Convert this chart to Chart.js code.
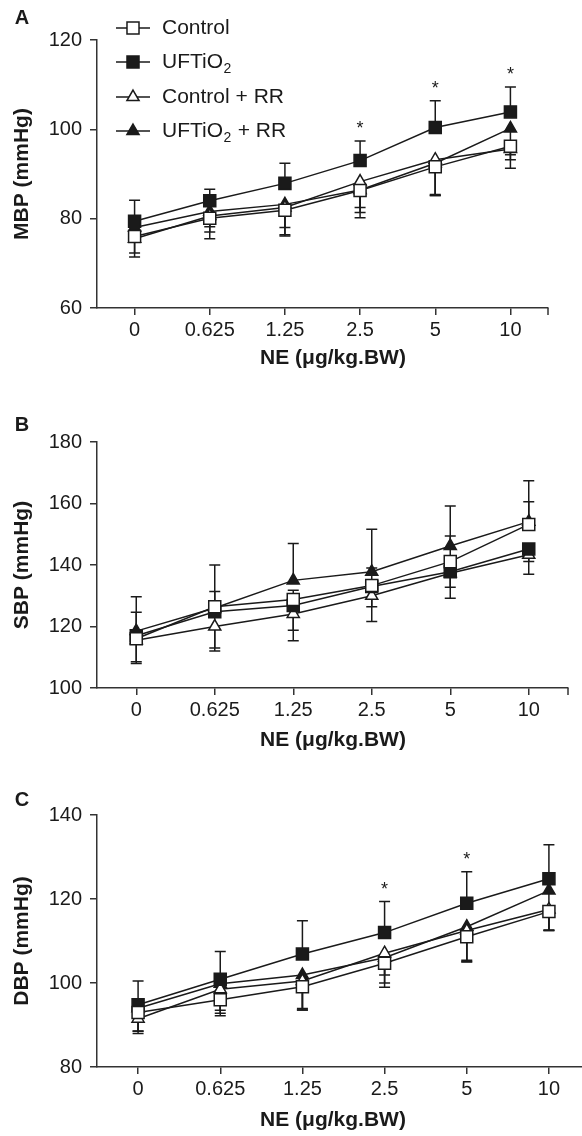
<!DOCTYPE html>
<html>
<head>
<title>NE dose response - MBP / SBP / DBP</title>
<script src="https://cdn.jsdelivr.net/npm/chart.js@4.4.0/dist/chart.umd.min.js"></script>
<style>
    html, body { margin: 0; padding: 0; background: #fff; overflow: hidden; }
    body { width: 582px; height: 1136px; position: relative; }
    canvas { position: absolute; left: 0; }
</style>
</head>
<body>
<canvas id="chartA" width="582" height="372" style="top:0px"></canvas>
<canvas id="chartB" width="582" height="354" style="top:400px"></canvas>
<canvas id="chartC" width="600" height="354" style="top:780px"></canvas>

<script>
// x categories (NE dose)
const doses = ['0', '0.625', '1.25', '2.5', '5', '10'];
const seriesNames = ['Control', 'UFTiO2', 'Control + RR', 'UFTiO2 + RR'];

// A - MBP (mmHg)
const mbpControl   = [76.0, 80.1, 81.9, 86.3, 91.6, 96.2];
const mbpUF        = [79.4, 84.0, 87.9, 93.0, 100.4, 103.9];
const mbpControlRR = [75.5, 80.6, 82.5, 88.3, 93.2, 95.6];
const mbpUFRR      = [78.0, 81.6, 83.2, 86.4, 92.4, 100.2];
const mbpControlSd   = [4.6, 4.6, 5.8, 6.1, 6.4, 4.9];
const mbpUFSd        = [4.7, 2.6, 4.5, 4.4, 6.0, 5.6];
const mbpControlRRSd = [3.2, 3.6, 4.5, 5.8, 8.0, 2.4];
const mbpUFRRSd      = [2.3, 3.4, 6.8, 5.0, 7.0, 5.9];
const mbpStar = [0, 0, 0, 1, 1, 1];

// B - SBP (mmHg)
const sbpControl   = [116.0, 126.4, 128.8, 133.3, 141.1, 153.2];
const sbpUF        = [117.0, 124.8, 126.8, 133.0, 137.8, 145.2];
const sbpControlRR = [115.5, 120.0, 124.1, 130.0, 137.3, 143.3];
const sbpUFRR      = [118.5, 126.0, 135.0, 137.8, 146.2, 154.1];
const sbpControlSd   = [8.6, 5.0, 3.0, 5.7, 8.3, 7.4];
const sbpUFSd        = [9.0, 11.8, 8.0, 6.6, 5.0, 4.1];
const sbpControlRRSd = [7.0, 8.0, 8.7, 8.4, 8.1, 6.3];
const sbpUFRRSd      = [11.2, 14.0, 12.0, 13.8, 13.0, 13.3];
const sbpStar = [0, 0, 0, 0, 0, 0];

// C - DBP (mmHg)
const dbpControl   = [93.0, 96.0, 99.1, 104.7, 111.0, 117.0];
const dbpUF        = [94.8, 100.9, 106.9, 112.0, 119.0, 124.8];
const dbpControlRR = [91.5, 98.5, 100.5, 107.1, 112.5, 117.5];
const dbpUFRR      = [94.0, 99.8, 101.9, 106.0, 113.4, 122.0];
const dbpControlSd   = [4.4, 3.8, 5.5, 5.7, 6.0, 4.4];
const dbpUFSd        = [5.7, 6.6, 7.9, 7.4, 7.5, 8.1];
const dbpControlRRSd = [3.0, 5.0, 6.9, 5.2, 7.4, 5.0];
const dbpUFRRSd      = [6.0, 7.0, 8.0, 6.0, 8.0, 9.5];
const dbpStar = [0, 0, 0, 1, 1, 0];

const INK = '#1a1a1a';
const FONT = '"Liberation Sans", Arial, Helvetica, sans-serif';

// marker look per series: Control, UFTiO2, Control + RR, UFTiO2 + RR
const markers = [
    { style: 'rect', radius: 8.5, fill: '#fff' },
    { style: 'rect', radius: 8.5, fill: INK },
    { style: 'triangle', radius: 7, fill: '#fff' },
    { style: 'triangle', radius: 7, fill: INK }
];

function drawMarker(ctx, m, x, y) {
    ctx.beginPath();
    if (m.style === 'rect') {
        const s = m.radius * Math.SQRT1_2;
        ctx.rect(x - s, y - s, 2 * s, 2 * s);
    } else {
        let a = 0;
        ctx.moveTo(x + Math.sin(a) * m.radius, y - Math.cos(a) * m.radius);
        a += 2 * Math.PI / 3;
        ctx.lineTo(x + Math.sin(a) * m.radius, y - Math.cos(a) * m.radius);
        a += 2 * Math.PI / 3;
        ctx.lineTo(x + Math.sin(a) * m.radius, y - Math.cos(a) * m.radius);
        ctx.closePath();
    }
    ctx.fillStyle = m.fill;
    ctx.fill();
    ctx.stroke();
}

// writes "UFTiO2" style labels with the 2 as subscript
function drawChem(ctx, text, x, y, size) {
    const parts = text.split('O2');
    let cx = x;
    parts.forEach((p, i) => {
        const chunk = p + (i < parts.length - 1 ? 'O' : '');
        ctx.font = size + 'px ' + FONT;
        ctx.fillText(chunk, cx, y);
        cx += ctx.measureText(chunk).width;
        if (i < parts.length - 1) {
            ctx.font = Math.round(size * 0.68) + 'px ' + FONT;
            ctx.fillText('2', cx + 0.5, y + 7);
            cx += ctx.measureText('2').width + 1;
        }
    });
}

// error bars (one-sided) + significance stars
const errorBars = {
    id: 'errorBars',
    beforeDatasetsDraw(chart) {
        const ctx = chart.ctx;
        const yScale = chart.scales.y;
        ctx.save();
        ctx.strokeStyle = INK;
        ctx.lineWidth = 1.5;
        chart.data.datasets.forEach((ds, i) => {
            const meta = chart.getDatasetMeta(i);
            meta.data.forEach((pt, j) => {
                const yEnd = yScale.getPixelForValue(ds.data[j] + ds.errDir * ds.err[j]);
                ctx.beginPath();
                ctx.moveTo(pt.x, pt.y);
                ctx.lineTo(pt.x, yEnd);
                ctx.moveTo(pt.x - 5.5, yEnd);
                ctx.lineTo(pt.x + 5.5, yEnd);
                ctx.stroke();
            });
        });
        ctx.restore();
    },
    afterDatasetsDraw(chart) {
        const ctx = chart.ctx;
        const yScale = chart.scales.y;
        ctx.save();
        ctx.fillStyle = INK;
        ctx.font = '18px ' + FONT;
        ctx.textAlign = 'center';
        ctx.textBaseline = 'alphabetic';
        chart.data.datasets.forEach((ds, i) => {
            if (!ds.star) return;
            const meta = chart.getDatasetMeta(i);
            meta.data.forEach((pt, j) => {
                if (!ds.star[j]) return;
                const top = yScale.getPixelForValue(ds.data[j] + ds.err[j]);
                ctx.fillText('*', pt.x, top - 7);
            });
        });
        ctx.restore();
    }
};

// panel letter, x title, end tick on x axis, legend (panel A)
const panelText = {
    id: 'panelText',
    afterDraw(chart, args, opts) {
        const ctx = chart.ctx;
        const area = chart.chartArea;
        ctx.save();
        ctx.fillStyle = INK;
        ctx.strokeStyle = '#333';
        ctx.lineWidth = 1.5;

        ctx.beginPath();
        ctx.moveTo(area.right, area.bottom);
        ctx.lineTo(area.right, area.bottom + 7);
        ctx.stroke();

        ctx.textBaseline = 'middle';
        ctx.textAlign = 'center';
        ctx.font = 'bold 20px ' + FONT;
        ctx.fillText(opts.letter, opts.letterX, opts.letterY);
        ctx.font = 'bold 21px ' + FONT;
        ctx.fillText('NE (\u03bcg/kg.BW)', opts.titleX, opts.titleY);

        if (opts.legend) {
            ctx.textAlign = 'left';
            ctx.strokeStyle = INK;
            const rows = [28, 62, 97, 131];
            seriesNames.forEach((name, i) => {
                const y = rows[i];
                ctx.beginPath();
                ctx.moveTo(116, y);
                ctx.lineTo(150, y);
                ctx.stroke();
                drawMarker(ctx, markers[i], 133, y);
                ctx.fillStyle = INK;
                drawChem(ctx, name, 162, y, 21);
            });
        }
        ctx.restore();
    }
};

function makeDatasets(values, errs, dirs, stars) {
    return values.map((v, i) => ({
        label: seriesNames[i],
        data: v,
        err: errs[i],
        errDir: dirs[i],
        star: i === 1 ? stars : null,
        borderColor: INK,
        borderWidth: 1.5,
        pointStyle: markers[i].style,
        pointRadius: markers[i].radius,
        pointBackgroundColor: markers[i].fill,
        pointBorderColor: INK,
        pointBorderWidth: 1.5,
        tension: 0,
        fill: false
    }));
}

function makeChart(id, cfg) {
    return new Chart(document.getElementById(id), {
        type: 'line',
        data: {
            labels: doses,
            datasets: makeDatasets(cfg.values, cfg.errs, cfg.dirs, cfg.stars)
        },
        plugins: [errorBars, panelText],
        options: {
            responsive: false,
            animation: false,
            events: [],
            layout: { padding: { top: cfg.padTop, right: cfg.padRight, left: 0, bottom: 0 } },
            plugins: {
                legend: { display: false },
                tooltip: { enabled: false },
                panelText: cfg.text
            },
            scales: {
                x: {
                    type: 'category',
                    offset: true,
                    grid: { drawOnChartArea: false, drawTicks: true, tickLength: 7, color: '#333', lineWidth: 1.5, offset: false },
                    border: { display: true, color: '#333', width: 1.5 },
                    ticks: { color: INK, font: { family: FONT, size: 20 }, padding: 3, maxRotation: 0 },
                    afterFit: s => { s.height = cfg.xHeight; }
                },
                y: {
                    min: cfg.min,
                    max: cfg.max,
                    grid: { drawOnChartArea: false, drawTicks: true, tickLength: 7, color: '#333', lineWidth: 1.5 },
                    border: { display: true, color: '#333', width: 1.5 },
                    ticks: { stepSize: 20, color: INK, font: { family: FONT, size: 20 }, padding: 8 },
                    title: { display: true, text: cfg.yTitle, color: INK, font: { family: FONT, size: 21, weight: 'bold' }, padding: { top: 10, bottom: 0 } },
                    afterFit: s => { s.width = 97; }
                }
            }
        }
    });
}

makeChart('chartA', {
    values: [mbpControl, mbpUF, mbpControlRR, mbpUFRR],
    errs: [mbpControlSd, mbpUFSd, mbpControlRRSd, mbpUFRRSd],
    dirs: [-1, 1, -1, -1],
    stars: mbpStar,
    min: 60, max: 120, yTitle: 'MBP (mmHg)',
    padTop: 40, padRight: 34, xHeight: 64,
    text: { letter: 'A', letterX: 22, letterY: 18, titleX: 333, titleY: 358, legend: true }
});

makeChart('chartB', {
    values: [sbpControl, sbpUF, sbpControlRR, sbpUFRR],
    errs: [sbpControlSd, sbpUFSd, sbpControlRRSd, sbpUFRRSd],
    dirs: [1, -1, -1, 1],
    stars: sbpStar,
    min: 100, max: 180, yTitle: 'SBP (mmHg)',
    padTop: 42, padRight: 14, xHeight: 66,
    text: { letter: 'B', letterX: 22, letterY: 25, titleX: 333, titleY: 340, legend: false }
});

makeChart('chartC', {
    values: [dbpControl, dbpUF, dbpControlRR, dbpUFRR],
    errs: [dbpControlSd, dbpUFSd, dbpControlRRSd, dbpUFRRSd],
    dirs: [-1, 1, -1, -1],
    stars: dbpStar,
    min: 80, max: 140, yTitle: 'DBP (mmHg)',
    padTop: 35, padRight: 9, xHeight: 67,
    text: { letter: 'C', letterX: 22, letterY: 20, titleX: 333, titleY: 340, legend: false }
});
</script>
</body>
</html>
